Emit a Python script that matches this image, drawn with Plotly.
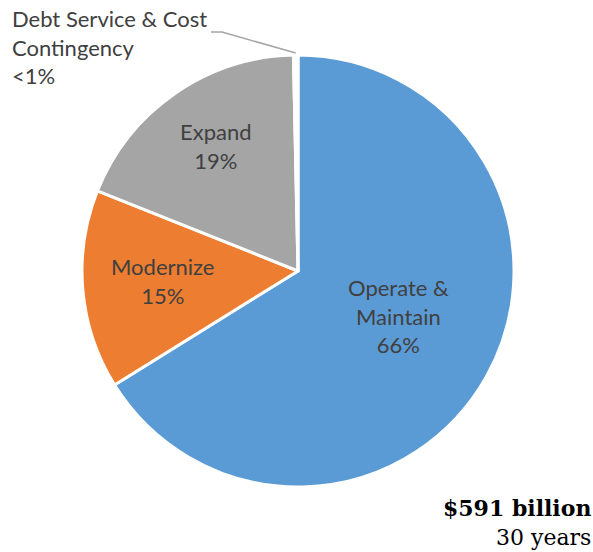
import math
import plotly.graph_objects as go

# Spending over 30 years, in billions of dollars
categories = ["Operate &<br>Maintain", "Modernize", "Expand", "Debt Service & Cost<br>Contingency"]
values = [391, 88, 110, 2]
pct_labels = ["66%", "15%", "19%", "<1%"]
colors = ["#5B9BD5", "#ED7D31", "#A5A5A5", "#FFFFFF"]
total_label = "$591 billion"
period_label = "30 years"

W, H = 593, 552
cx, cy, R = 298, 271, 216  # pie centre and radius in pixels


def px(x):
    return x / W


def py(y):
    return 1 - y / H


fig = go.Figure(
    go.Pie(
        labels=categories,
        values=values,
        sort=False,
        direction="clockwise",
        rotation=0,
        marker=dict(colors=colors, line=dict(color="white", width=3)),
        textinfo="none",
        hoverinfo="label+percent",
        domain=dict(x=[px(cx - R), px(cx + R)], y=[py(cy + R), py(cy - R)]),
        showlegend=False,
    )
)

font_main = dict(family="Lato, 'Open Sans', sans-serif", size=22, color="#404040")

# Inside labels
inside_pos = [(398, 316), (162, 281), (216, 146)]
annotations = []
for (x, y), cat, pct in zip(inside_pos, categories[:3], pct_labels[:3]):
    annotations.append(
        dict(x=px(x), y=py(y), xref="paper", yref="paper", text=f"{cat}<br>{pct}",
             showarrow=False, font=font_main, align="center",
             xanchor="center", yanchor="middle")
    )

# Outside label for the small slice
annotations.append(
    dict(x=px(10), y=py(47), xref="paper", yref="paper",
         text=f"{categories[3]}<br>{pct_labels[3]}", showarrow=False,
         font=font_main, align="left", xanchor="left", yanchor="middle")
)

# Total in the lower right corner
annotations.append(
    dict(x=px(593), y=py(522), xref="paper", yref="paper",
         text=f"<b>{total_label}</b><br>{period_label}", showarrow=False,
         font=dict(family="'DejaVu Serif', serif", size=22, color="#000000"),
         align="right", xanchor="right", yanchor="middle")
)

# Leader line from the label to the mid-angle of the small slice
frac_before = sum(values[:3]) / sum(values)
mid = frac_before + values[3] / sum(values) / 2
theta = 2 * math.pi * mid
rim_x = cx + (R + 2) * math.sin(theta)
rim_y = cy - (R + 2) * math.cos(theta)
path = (f"M {px(211)} {py(32)} L {px(222)} {py(32)} L {px(rim_x)} {py(rim_y)}")

fig.update_layout(
    width=W,
    height=H,
    margin=dict(l=0, r=0, t=0, b=0),
    paper_bgcolor="white",
    plot_bgcolor="white",
    annotations=annotations,
    shapes=[dict(type="path", path=path, xref="paper", yref="paper",
                 line=dict(color="#A6A6A6", width=1.5))],
)

fig.write_html("out.html")
